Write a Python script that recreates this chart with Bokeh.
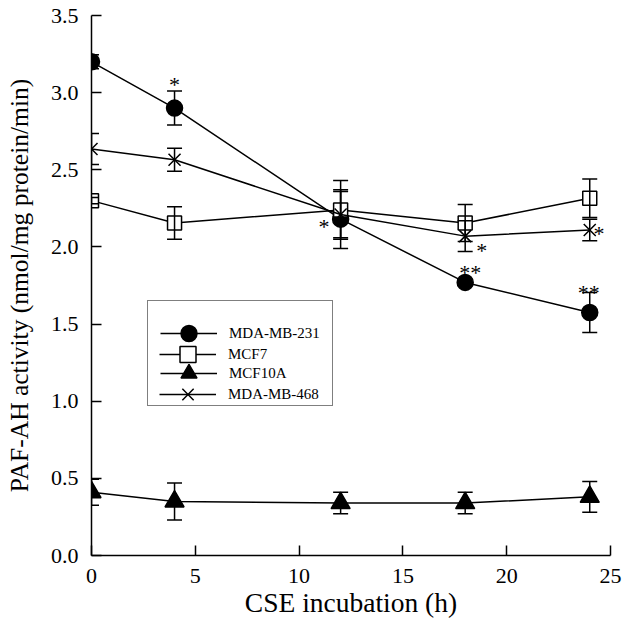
from bokeh.plotting import figure
from bokeh.models import (ColumnDataSource, Whisker, TeeHead, Legend, LegendItem,
                          Range1d, FixedTicker, CustomJSTickFormatter)
from bokeh.core.properties import value
from bokeh.embed import file_html
from bokeh.resources import INLINE

# ---- data ----
hours = [0, 4, 12, 18, 24]

mda231 = [3.20, 2.90, 2.18, 1.77, 1.575]
mda231_err = [0.045, 0.11, 0.19, 0.02, 0.13]

mcf7 = [2.30, 2.155, 2.24, 2.155, 2.315]
mcf7_err = [0.02, 0.105, 0.19, 0.12, 0.125]

mcf10a = [0.41, 0.35, 0.34, 0.34, 0.38]
mcf10a_err = [0.085, 0.12, 0.07, 0.07, 0.10]

mda468 = [2.635, 2.565, 2.21, 2.07, 2.11]
mda468_err = [0.10, 0.075, 0.15, 0.10, 0.07]

star_x = [4, 11.2, 18.8, 18.25, 23.95, 24.45]
star_y = [3.08, 2.16, 2.00, 1.86, 1.73, 2.11]
star_txt = ["*", "*", "*", "**", "**", "*"]

x_ticks = [0, 5, 10, 15, 20, 25]
y_ticks = [0.0, 0.5, 1.0, 1.5, 2.0, 2.5, 3.0, 3.5]

FONT = "Liberation Serif"

p = figure(width=624, height=625, output_backend="svg", toolbar_location=None,
           x_range=Range1d(0, 25), y_range=Range1d(0, 3.5),
           min_border_left=91, min_border_top=15, min_border_bottom=70, min_border_right=14)
p.outline_line_color = None
p.grid.visible = False
p.background_fill_color = "white"

p.axis.axis_line_color = "black"
p.axis.axis_line_width = 1.5
p.axis.major_tick_line_color = "black"
p.axis.major_tick_line_width = 1.5
p.axis.major_tick_in = 10
p.axis.major_tick_out = 0
p.axis.minor_tick_line_color = None
p.axis.major_label_text_font = FONT
p.axis.major_label_text_font_size = "22px"
p.axis.major_label_text_color = "black"
p.axis.axis_label_text_font = FONT
p.axis.axis_label_text_font_style = "normal"
p.axis.axis_label_text_color = "black"
p.xaxis.axis_label_text_font_size = "27.5px"
p.yaxis.axis_label_text_font_size = "25.5px"

p.xaxis.ticker = FixedTicker(ticks=x_ticks)
p.yaxis.ticker = FixedTicker(ticks=y_ticks)
p.yaxis.formatter = CustomJSTickFormatter(code="return tick.toFixed(1);")
p.xaxis.major_label_standoff = 13
p.yaxis.major_label_standoff = 13
p.xaxis.axis_label = "CSE incubation (h)"
p.yaxis.axis_label = "PAF-AH activity (nmol/mg protein/min)"
p.xaxis.axis_label_standoff = 1
p.yaxis.axis_label_standoff = 14

series = [
    ("MDA-MB-231", mda231, mda231_err, "circle", 16, "black"),
    ("MCF7", mcf7, mcf7_err, "square", 14, "white"),
    ("MCF10A", mcf10a, mcf10a_err, "triangle", 19, "black"),
    ("MDA-MB-468", mda468, mda468_err, "x", 17, "black"),
]

items = []
for name, vals, errs, marker, size, fill in series:
    src = ColumnDataSource(dict(x=hours, y=vals,
                                lo=[v - e for v, e in zip(vals, errs)],
                                hi=[v + e for v, e in zip(vals, errs)]))
    w = Whisker(source=src, base="x", lower="lo", upper="hi", line_color="black", line_width=1.5,
                upper_head=TeeHead(size=15, line_color="black", line_width=1.5),
                lower_head=TeeHead(size=15, line_color="black", line_width=1.5))
    w.level = "glyph"
    p.add_layout(w)
    ln = p.line("x", "y", source=src, line_color="black", line_width=1.5)
    sc = p.scatter("x", "y", source=src, marker=marker, size=size, fill_color=fill,
                   line_color="black", line_width=1.5)
    items.append(LegendItem(label=name, renderers=[ln, sc]))

p.text(x=star_x, y=star_y, text=star_txt, text_font=value(FONT), text_font_size="22px",
       text_align="center", text_baseline="middle", text_color="black", y_offset=4)

# Legend in two interleaved halves (rows 20px apart with full-size markers)
common = dict(orientation="vertical", glyph_width=57, glyph_height=40, label_height=40,
              spacing=0, label_standoff=12, margin=0,
              label_text_font=FONT, label_text_font_size="15px", label_text_color="black")
legend_a = Legend(items=[items[0], items[2]], location=(56, 149), padding=12,
                  border_line_color="black", border_line_width=1.5,
                  background_fill_color="white", background_fill_alpha=1, **common)
legend_b = Legend(items=[items[1], items[3]], location=(68, 141), padding=0,
                  border_line_color=None, background_fill_alpha=0, **common)
p.add_layout(legend_a, "center")
p.add_layout(legend_b, "center")

open("out.html", "w").write(file_html(p, INLINE))
